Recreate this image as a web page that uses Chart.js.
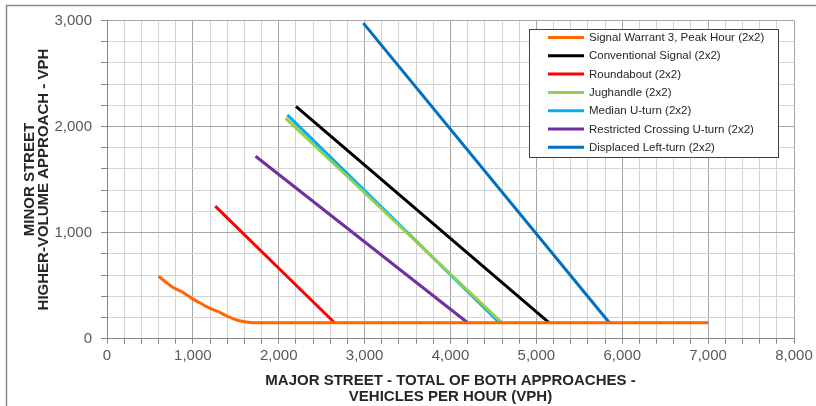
<!DOCTYPE html>
<html>
<head>
<meta charset="utf-8">
<script src="https://cdn.jsdelivr.net/npm/chart.js@4.4.1/dist/chart.umd.min.js"></script>
<style>
  html, body { margin: 0; padding: 0; background: #ffffff; }
  #wrap { position: relative; width: 816px; height: 406px; }
</style>
</head>
<body>
<div id="wrap"><canvas id="c" width="816" height="406"></canvas></div>
<script>
// ---- data ----
const seriesLabels = [
  'Signal Warrant 3, Peak Hour (2x2)',
  'Conventional Signal (2x2)',
  'Roundabout (2x2)',
  'Jughandle (2x2)',
  'Median U-turn (2x2)',
  'Restricted Crossing U-turn (2x2)',
  'Displaced Left-turn (2x2)'
];
const seriesColors = ['#FF6600', '#000000', '#FF0000', '#92D050', '#00B0F0', '#7030A0', '#0070C0'];

const warrantX = [600, 680, 756, 814, 872, 930, 1007, 1105, 1200, 1298, 1395, 1512, 1620, 1700, 7000];
const warrantY = [590, 537, 490, 465, 443, 411, 371, 327, 286, 254, 214, 176, 157, 150, 150];
const conventionalX = [2200, 5150];
const conventionalY = [2190, 150];
const roundaboutX = [1260, 2650];
const roundaboutY = [1250, 150];
const jughandleX = [2080, 4600];
const jughandleY = [2080, 150];
const medianUturnX = [2100, 4570];
const medianUturnY = [2110, 150];
const rcutX = [1730, 4200];
const rcutY = [1720, 150];
const dltX = [2985, 5850];
const dltY = [2975, 150];

const xTickMax = 8000, yTickMax = 3000, tickStep = 200, majorStep = 1000;

const seriesX = [warrantX, conventionalX, roundaboutX, jughandleX, medianUturnX, rcutX, dltX];
const seriesY = [warrantY, conventionalY, roundaboutY, jughandleY, medianUturnY, rcutY, dltY];

const datasets = seriesLabels.map((label, i) => ({
  label,
  data: seriesX[i].map((x, k) => ({ x, y: seriesY[i][k] })),
  borderColor: seriesColors[i],
  backgroundColor: seriesColors[i],
  borderWidth: 3,
  pointRadius: 0,
  cubicInterpolationMode: 'monotone',
  fill: false,
  showLine: true
}));

const fmt = v => (v % majorStep === 0) ? v.toLocaleString('en-US') : '';
const gridColor = ctx => (ctx.tick && ctx.tick.value % majorStep === 0) ? '#a6a6a6' : '#d4d4d4';

const framePlugin = {
  id: 'frame',
  beforeDraw(chart) {
    const c = chart.ctx;
    c.save();
    c.fillStyle = '#ffffff';
    c.fillRect(0, 0, chart.width, chart.height);
    c.strokeStyle = '#8a8a8a';
    c.lineWidth = 1.5;
    c.beginPath();
    c.moveTo(6.5, chart.height);
    c.lineTo(6.5, 5.5);
    c.lineTo(chart.width, 5.5);
    c.stroke();
    c.restore();
  }
};

const legendPlugin = {
  id: 'boxLegend',
  afterDraw(chart) {
    const c = chart.ctx;
    const x0 = 529.5, y0 = 29.5, w = 249, h = 128;
    c.save();
    c.fillStyle = '#ffffff';
    c.fillRect(x0, y0, w, h);
    c.strokeStyle = '#404040';
    c.lineWidth = 1;
    c.strokeRect(x0, y0, w, h);
    c.font = '11.5px "Liberation Sans", Arial, sans-serif';
    c.textBaseline = 'middle';
    c.textAlign = 'left';
    chart.data.datasets.forEach((ds, i) => {
      const y = 37.5 + i * 18.3;
      c.strokeStyle = ds.borderColor;
      c.lineWidth = 3;
      c.beginPath();
      c.moveTo(548, y);
      c.lineTo(584, y);
      c.stroke();
      c.fillStyle = '#262626';
      c.fillText(ds.label, 589, y + 0.5);
    });
    c.restore();
  }
};

new Chart(document.getElementById('c'), {
  type: 'scatter',
  data: { datasets },
  plugins: [framePlugin, legendPlugin],
  options: {
    responsive: false,
    animation: false,
    devicePixelRatio: 1,
    layout: { padding: { left: 7, top: 20.5, right: 22, bottom: 0 } },
    plugins: { legend: { display: false }, tooltip: { enabled: false } },
    scales: {
      x: {
        type: 'linear', min: 0, max: xTickMax,
        afterFit(s) { s.height = 67.3; },
        border: { color: '#868686', width: 1 },
        grid: { color: gridColor, tickColor: '#868686', tickLength: 5, drawTicks: true },
        ticks: { stepSize: tickStep, autoSkip: false, maxRotation: 0, callback: fmt,
                 color: '#595959', padding: 3, font: { family: '"Liberation Sans", Arial, sans-serif', size: 15 } },
        title: { display: true, text: ['MAJOR STREET - TOTAL OF BOTH APPROACHES -', 'VEHICLES PER HOUR (VPH)'],
                 color: '#262626', padding: { top: 0, bottom: 1 },
                 font: { family: '"Liberation Sans", Arial, sans-serif', size: 15, weight: 'bold', lineHeight: '16px' } }
      },
      y: {
        type: 'linear', min: 0, max: yTickMax,
        afterFit(s) { s.width = 100; },
        border: { color: '#868686', width: 1 },
        grid: { color: gridColor, tickColor: '#868686', tickLength: 6, drawTicks: true },
        ticks: { stepSize: tickStep, autoSkip: false, callback: fmt,
                 color: '#595959', padding: 9, font: { family: '"Liberation Sans", Arial, sans-serif', size: 15 } },
        title: { display: true, text: ['MINOR STREET', 'HIGHER-VOLUME APPROACH - VPH'],
                 color: '#262626', padding: { top: 15.4, bottom: 0 },
                 font: { family: '"Liberation Sans", Arial, sans-serif', size: 15, weight: 'bold', lineHeight: '14.5px' } }
      }
    }
  }
});
</script>
</body>
</html>
